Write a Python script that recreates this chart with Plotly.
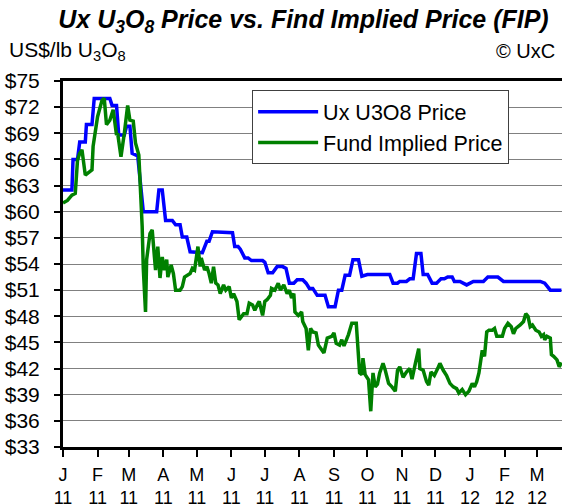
import plotly.graph_objects as go

# ---- Data ----
ux_dates = [
    "2011-01-01", "2011-01-09", "2011-01-10", "2011-01-14", "2011-01-16", "2011-01-21",
    "2011-01-22", "2011-01-27", "2011-01-29", "2011-02-12", "2011-02-14", "2011-02-18",
    "2011-02-20", "2011-02-25", "2011-02-27", "2011-03-02", "2011-03-04", "2011-03-09",
    "2011-03-14", "2011-03-26", "2011-03-28", "2011-03-31", "2011-04-03", "2011-04-09",
    "2011-04-12", "2011-04-16", "2011-04-18", "2011-04-22", "2011-04-25", "2011-05-01",
    "2011-05-04", "2011-05-06", "2011-05-10", "2011-05-12", "2011-05-15", "2011-05-21",
    "2011-05-24", "2011-06-02", "2011-06-04", "2011-06-07", "2011-06-09", "2011-06-13",
    "2011-06-16", "2011-06-19", "2011-06-29", "2011-07-01", "2011-07-04", "2011-07-08",
    "2011-07-12", "2011-07-17", "2011-07-20", "2011-07-23", "2011-07-27", "2011-07-30",
    "2011-08-04", "2011-08-07", "2011-08-10", "2011-08-13", "2011-08-17", "2011-08-24",
    "2011-08-27", "2011-09-02", "2011-09-05", "2011-09-08", "2011-09-11", "2011-09-15",
    "2011-09-18", "2011-09-23", "2011-09-26", "2011-10-01", "2011-10-21", "2011-10-24",
    "2011-10-28", "2011-10-30", "2011-11-05", "2011-11-08", "2011-11-11", "2011-11-14",
    "2011-11-18", "2011-11-20", "2011-11-24", "2011-11-28", "2011-12-02", "2011-12-06",
    "2011-12-09", "2011-12-12", "2011-12-16", "2011-12-18", "2011-12-23", "2011-12-29",
    "2012-01-04", "2012-01-13", "2012-01-17", "2012-01-26", "2012-01-31", "2012-03-04",
    "2012-03-08", "2012-03-13", "2012-03-23",
]
ux_price = [
    62.5, 62.5, 66.0, 66.0, 68.0, 68.0,
    70.0, 70.0, 73.0, 73.0, 72.2, 72.2,
    68.8, 68.8, 69.8, 69.8, 66.7, 66.4,
    60.0, 60.0, 62.5, 62.5, 59.0, 59.0,
    58.5, 58.5, 57.1, 57.1, 55.4, 55.4,
    55.3, 55.3, 56.6, 56.6, 57.7, 57.7,
    57.6, 57.6, 56.0, 56.0, 55.7, 54.7,
    54.7, 54.4, 54.4, 54.2, 53.0, 53.0,
    53.7, 53.7, 53.5, 51.8, 51.8, 52.2,
    52.2, 51.8, 51.2, 51.2, 50.4, 50.4,
    49.1, 49.1, 51.0, 51.0, 52.7, 52.7,
    54.5, 54.5, 52.6, 52.8, 52.8, 51.8,
    51.8, 52.0, 52.0, 52.3, 52.3, 55.2,
    55.2, 52.8, 52.8, 51.8, 51.8, 52.3,
    52.3, 52.5, 52.5, 52.0, 52.0, 51.6,
    52.0, 52.0, 52.5, 52.5, 52.0, 52.0,
    51.8, 51.0, 51.0,
]

fip_dates = [
    "2011-01-01", "2011-01-03", "2011-01-05", "2011-01-09", "2011-01-12", "2011-01-14",
    "2011-01-16", "2011-01-18", "2011-01-21", "2011-01-23", "2011-01-27", "2011-01-28",
    "2011-02-01", "2011-02-05", "2011-02-07", "2011-02-09", "2011-02-12", "2011-02-15",
    "2011-02-18", "2011-02-19", "2011-02-22", "2011-02-25", "2011-02-28", "2011-03-02",
    "2011-03-05", "2011-03-07", "2011-03-10", "2011-03-13", "2011-03-14", "2011-03-16",
    "2011-03-17", "2011-03-20", "2011-03-22", "2011-03-24", "2011-03-25", "2011-03-27",
    "2011-03-29", "2011-03-31", "2011-04-02", "2011-04-04", "2011-04-05", "2011-04-08",
    "2011-04-10", "2011-04-12", "2011-04-16", "2011-04-18", "2011-04-20", "2011-04-25",
    "2011-04-27", "2011-04-29", "2011-05-02", "2011-05-04", "2011-05-05", "2011-05-08",
    "2011-05-10", "2011-05-12", "2011-05-14", "2011-05-16", "2011-05-18", "2011-05-20",
    "2011-05-22", "2011-05-25", "2011-05-27", "2011-05-30", "2011-06-01", "2011-06-03",
    "2011-06-06", "2011-06-08", "2011-06-12", "2011-06-15", "2011-06-17", "2011-06-20",
    "2011-06-22", "2011-06-25", "2011-06-26", "2011-06-29", "2011-07-01", "2011-07-03",
    "2011-07-06", "2011-07-07", "2011-07-10", "2011-07-13", "2011-07-15", "2011-07-18",
    "2011-07-21", "2011-07-23", "2011-07-25", "2011-07-27", "2011-07-28", "2011-07-31",
    "2011-08-03", "2011-08-04", "2011-08-07", "2011-08-09", "2011-08-11", "2011-08-13",
    "2011-08-16", "2011-08-18", "2011-08-21", "2011-08-23", "2011-08-26", "2011-08-30",
    "2011-09-01", "2011-09-03", "2011-09-06", "2011-09-08", "2011-09-10", "2011-09-14",
    "2011-09-17", "2011-09-21", "2011-09-22", "2011-09-24", "2011-09-26", "2011-09-27",
    "2011-09-29", "2011-10-02", "2011-10-04", "2011-10-06", "2011-10-08", "2011-10-10",
    "2011-10-12", "2011-10-15", "2011-10-17", "2011-10-20", "2011-10-23", "2011-10-26",
    "2011-10-28", "2011-10-30", "2011-11-02", "2011-11-05", "2011-11-08", "2011-11-10",
    "2011-11-13", "2011-11-16", "2011-11-17", "2011-11-20", "2011-11-23", "2011-11-25",
    "2011-11-27", "2011-11-30", "2011-12-03", "2011-12-05", "2011-12-08", "2011-12-11",
    "2011-12-14", "2011-12-17", "2011-12-20", "2011-12-22", "2011-12-25", "2011-12-28",
    "2011-12-31", "2012-01-03", "2012-01-05", "2012-01-07", "2012-01-09", "2012-01-11",
    "2012-01-12", "2012-01-14", "2012-01-16", "2012-01-18", "2012-01-21", "2012-01-23",
    "2012-01-25", "2012-01-30", "2012-02-01", "2012-02-04", "2012-02-07", "2012-02-09",
    "2012-02-11", "2012-02-15", "2012-02-18", "2012-02-20", "2012-02-22", "2012-02-24",
    "2012-02-26", "2012-02-29", "2012-03-03", "2012-03-05", "2012-03-07", "2012-03-08",
    "2012-03-10", "2012-03-13", "2012-03-14", "2012-03-16", "2012-03-19", "2012-03-21",
    "2012-03-23",
]
fip_price = [
    61.0, 61.2, 61.3, 61.9, 62.1, 65.9,
    66.7, 67.1, 64.2, 64.4, 64.8, 67.5,
    70.9, 72.8, 73.0, 70.0, 70.5, 71.7,
    68.8, 69.0, 66.3, 69.0, 72.2, 70.5,
    70.4, 67.9, 66.5, 58.3, 53.5, 48.5,
    54.5, 57.5, 57.9, 54.8, 53.3, 56.0,
    52.4, 54.8, 53.3, 54.5, 52.5, 53.9,
    52.9, 51.0, 51.0, 51.4, 52.5, 52.9,
    53.5, 53.3, 56.0, 53.7, 54.7, 53.3,
    53.7, 52.9, 51.8, 53.7, 51.8, 51.6,
    50.6, 51.6, 51.0, 51.4, 50.1, 50.6,
    49.7, 47.6, 48.3, 48.3, 49.5, 49.3,
    48.7, 49.5, 49.7, 48.1, 49.7, 49.9,
    50.4, 51.2, 51.0, 51.8, 51.0, 51.6,
    50.6, 51.0, 50.1, 50.6, 48.5, 48.1,
    48.5, 47.4, 46.6, 44.1, 46.6, 46.2,
    46.1, 44.7, 44.1, 43.8, 45.5, 45.7,
    46.1, 44.9, 44.7, 45.3, 44.6, 45.9,
    47.2, 47.2, 45.3, 41.5, 41.3, 43.2,
    41.3, 40.7, 37.1, 41.5, 39.9, 40.2,
    41.5, 42.6, 41.8, 40.3, 39.9, 39.4,
    41.8, 42.2, 41.0, 41.6, 42.0, 40.8,
    42.6, 44.3, 42.0, 41.8, 40.5, 40.1,
    41.6, 41.2, 42.0, 42.6, 41.8, 41.2,
    40.3, 39.9, 39.7, 39.2, 39.6, 39.0,
    39.4, 40.3, 39.9, 40.5, 41.5, 43.8,
    44.1, 43.4, 46.2, 46.4, 46.4, 46.6,
    45.7, 45.7, 46.6, 47.2, 46.8, 46.0,
    46.6, 47.0, 47.4, 48.3, 48.0, 46.8,
    47.0, 46.4, 46.2, 45.7, 45.9, 45.3,
    45.7, 45.5, 43.6, 43.4, 43.0, 42.2,
    42.7,
]

month_starts = [
    "2011-01-01", "2011-02-01", "2011-03-01", "2011-04-01", "2011-05-01", "2011-06-01",
    "2011-07-01", "2011-08-01", "2011-09-01", "2011-10-01", "2011-11-01", "2011-12-01",
    "2012-01-01", "2012-02-01", "2012-03-01",
]
month_letters = ["J", "F", "M", "A", "M", "J", "J", "A", "S", "O", "N", "D", "J", "F", "M"]
year_labels = ["11"] * 12 + ["12"] * 3
tick_text = [f"{m}<br>{y}" for m, y in zip(month_letters, year_labels)]

FONT = "Liberation Sans, Arial, sans-serif"

fig = go.Figure()
fig.add_trace(go.Scatter(
    x=ux_dates, y=ux_price, mode="lines", name="Ux U3O8 Price",
    line=dict(color="#0000FF", width=3.5),
))
fig.add_trace(go.Scatter(
    x=fip_dates, y=fip_price, mode="lines", name="Fund Implied Price",
    line=dict(color="#008000", width=3.5),
))

fig.update_layout(
    width=562, height=504,
    margin=dict(l=63, r=0, t=81, b=57, autoexpand=False),
    paper_bgcolor="white", plot_bgcolor="white",
    font=dict(family=FONT, color="black", size=19),
    title=dict(
        text="<b><i>Ux U<sub>3</sub>O<sub>8</sub> Price vs. Find Implied Price (FIP)</i></b>",
        font=dict(family=FONT, size=25, color="black"),
        x=0.54, xref="container", xanchor="center",
        y=0.962, yref="container", yanchor="middle",
    ),
    showlegend=True,
    legend=dict(
        x=0.379, y=0.975, xanchor="left", yanchor="top",
        bgcolor="white", bordercolor="#404040", borderwidth=1,
        font=dict(family=FONT, size=21.5, color="black"),
        itemwidth=60, tracegroupgap=0,
    ),
    xaxis=dict(
        type="date", automargin=False,
        range=["2011-01-01", "2012-03-23 12:00"],
        tickmode="array", tickvals=month_starts, ticktext=tick_text,
        showgrid=False, zeroline=False,
        showline=True, linecolor="black", linewidth=3, mirror=True,
        ticks="outside", ticklen=7, tickwidth=1.5, tickcolor="black",
        ticklabelstandoff=2,
        tickfont=dict(family=FONT, size=18, color="black"),
    ),
    yaxis=dict(
        range=[33, 75], tick0=33, dtick=3, tickprefix="$", automargin=False,
        showgrid=True, gridcolor="#808080", gridwidth=1.2,
        zeroline=False,
        showline=True, linecolor="black", linewidth=3,
        ticks="outside", ticklen=6, tickwidth=1.5, tickcolor="black",
        ticklabelstandoff=10,
        tickfont=dict(family=FONT, size=21, color="black"),
    ),
    annotations=[
        dict(text="US$/lb U<sub>3</sub>O<sub>8</sub>", xref="paper", yref="paper",
             x=-0.112, y=1.082, xanchor="left", yanchor="middle", showarrow=False,
             font=dict(family=FONT, size=21, color="black")),
        dict(text="© UxC", xref="paper", yref="paper",
             x=0.99, y=1.082, xanchor="right", yanchor="middle", showarrow=False,
             font=dict(family=FONT, size=20, color="black")),
    ],
)

fig.write_html(
    "out.html",
    config={"displayModeBar": False},
    post_script="document.body.style.margin='0px';",
)
